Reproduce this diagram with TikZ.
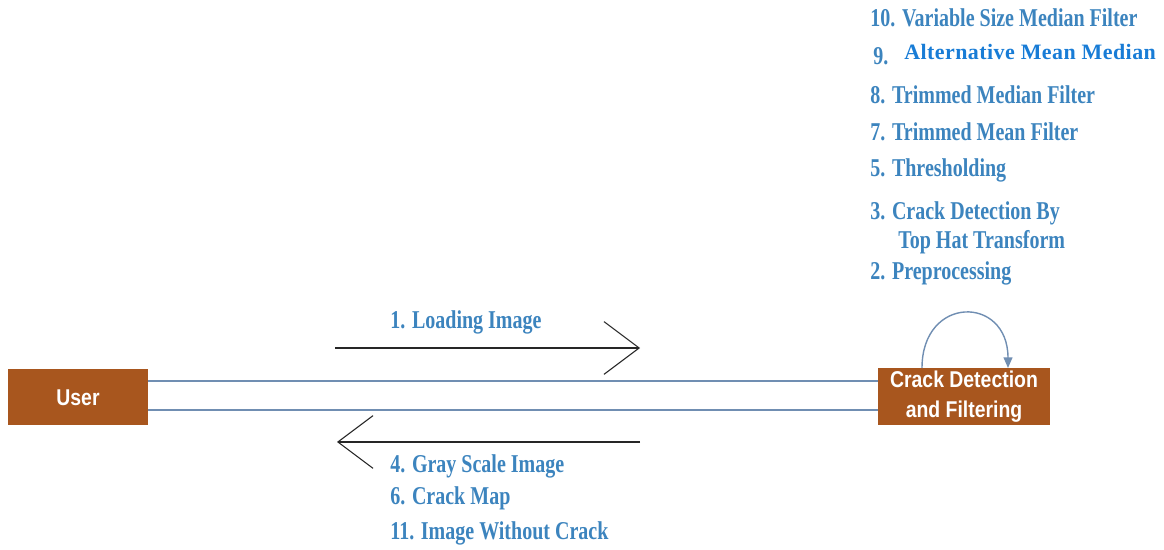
\documentclass[tikz,border=0pt]{standalone}
\usepackage{fontspec}
\setmainfont{Liberation Serif}
\newfontfamily\labelfont[FakeStretch=0.78]{Liberation Serif Bold}
\newfontfamily\boldlabelfont[LetterSpace=2]{Liberation Serif Bold}
\newfontfamily\boxfont[FakeStretch=0.85]{Liberation Sans Bold}
\usetikzlibrary{arrows.meta}
\definecolor{boxbrown}{RGB}{168,86,30}
\definecolor{msgblue}{RGB}{60,132,190}
\definecolor{brightblue}{RGB}{24,124,214}
\definecolor{wireblue}{RGB}{112,142,178}
\tikzset{
  actor/.style={fill=boxbrown, draw=none, text=white, font=\boxfont\fontsize{13}{15}\selectfont, align=center, inner sep=0pt},
  msg/.style={text=msgblue, font=\labelfont\fontsize{14.6}{16}\selectfont, anchor=west, inner sep=0pt},
  wire/.style={draw=wireblue, line width=0.7pt},
  call/.style={draw=black!85, line width=0.8pt, -{Straight Barb[length=20pt, width=30pt, line width=0.6pt]}},
  selfloop/.style={draw=wireblue, line width=0.8pt, -{Triangle[length=6pt, width=5pt]}}
}
\begin{document}
\begin{tikzpicture}[x=0.02cm, y=-0.02cm]
\useasboundingbox (0,0) rectangle (1164,550);

% participants
\node[actor, minimum width=140*0.02cm, minimum height=56*0.02cm] (user) at (78,397.5) {User};
\node[actor, minimum width=172*0.02cm, minimum height=57*0.02cm] (cdf) at (964,397) {Crack Detection\\[2pt]and Filtering};

% association lines between the two participants
\draw[wire] (user.east |- 0,381) -- (cdf.west |- 0,381);
\draw[wire] (user.east |- 0,410) -- (cdf.west |- 0,410);

% request and response arrows
\coordinate (reqA) at (335,348);
\coordinate (reqB) at (640,348);
\coordinate (resA) at (640,442);
\coordinate (resB) at (337,442);
\draw[call] (reqA) -- (reqB);
\draw[call] (resA) -- (resB);

% self call on the processing block
\coordinate (loopA) at (922,368);
\coordinate (loopB) at (1008,368);
\draw[selfloop] (loopA) .. controls (922,295) and (1008,295) .. (loopB);

% message labels
\node[msg] (m1) at (390,322) {1. Loading Image};
\node[msg] (m4) at (390,466) {4. Gray Scale Image};
\node[msg] (m6) at (390,498) {6. Crack Map};
\node[msg] (m11) at (390,533) {11. Image Without Crack};

\node[msg] (m10) at (870,18) {10. Variable Size Median Filter};
\node[msg] (m9) at (873,56) {9.};
\node[anchor=west, inner sep=0pt, text=brightblue, font=\boldlabelfont\fontsize{12.5}{15}\selectfont] (m9b) at (904,52) {Alternative Mean Median};
\node[msg] (m8) at (870,95) {8. Trimmed Median Filter};
\node[msg] (m7) at (870,132) {7. Trimmed Mean Filter};
\node[msg] (m5) at (870,170) {5. Thresholding};
\node[msg] (m3) at (870,213) {3. Crack Detection By};
\node[msg] (m3b) at (898,242) {Top Hat Transform};
\node[msg] (m2) at (870,273) {2. Preprocessing};
\end{tikzpicture}
\end{document}
